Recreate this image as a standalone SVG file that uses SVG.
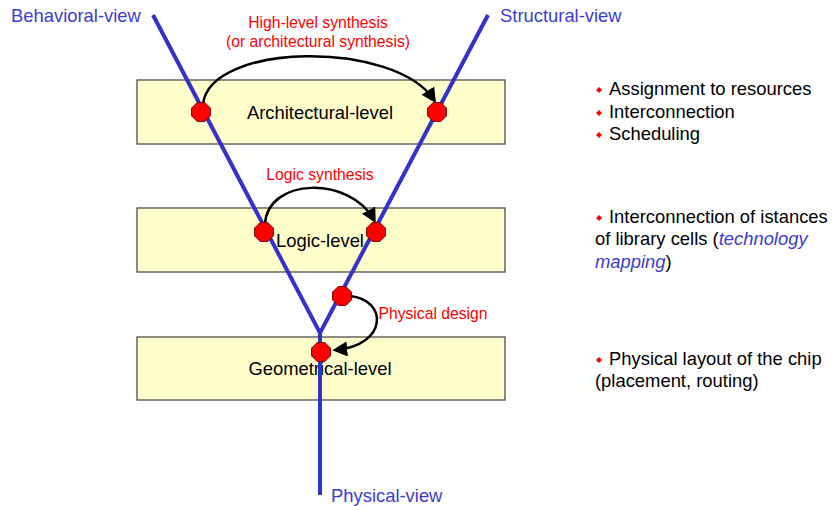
<svg xmlns="http://www.w3.org/2000/svg" width="834" height="506" viewBox="0 0 834 506">
<style>
.box{fill:#ffffcc;stroke:#404040;stroke-width:1.2}
.lvl{font-family:"Liberation Sans",Arial,sans-serif;font-size:18.4px;fill:#000;text-anchor:middle}
.view{font-family:"Liberation Sans",Arial,sans-serif;font-size:18.4px;fill:#3c3cd2}
.red{font-family:"Liberation Sans",Arial,sans-serif;font-size:15.7px;fill:#ff0000;text-anchor:middle}
.note{font-family:"Liberation Sans",Arial,sans-serif;font-size:18.4px;fill:#000}
.em{fill:#3c3cd2;font-style:italic}
.axis{stroke:#3333cc;stroke-width:4;fill:none}
.arc{stroke:#000;stroke-width:2.5;fill:none;marker-end:url(#ah)}
.oct{fill:#ff0000;stroke:#700000;stroke-width:1}
.bul{fill:#ff0000}
</style>
<defs>
<marker id="ah" markerWidth="6" markerHeight="6" refX="4.5" refY="3" orient="auto" markerUnits="strokeWidth">
<path d="M0,0 L6,3 L0,6 Z" fill="#000"/>
</marker>
<polygon id="o" points="-3.9,-9.4 3.9,-9.4 9.4,-3.9 9.4,3.9 3.9,9.4 -3.9,9.4 -9.4,3.9 -9.4,-3.9"/>
<polygon id="d" points="0,-3 3,0 0,3 -3,0"/>
</defs>

<g id="architectural-level">
<rect class="box" x="137" y="80" width="368" height="64"/>
<text class="lvl" x="320" y="118.5">Architectural-level</text>
</g>
<g id="logic-level">
<rect class="box" x="137" y="208" width="368" height="64"/>
<text class="lvl" x="320" y="247">Logic-level</text>
</g>
<g id="geometrical-level">
<rect class="box" x="137" y="337" width="368" height="63"/>
<text class="lvl" x="320" y="375">Geometrical-level</text>
</g>

<g id="behavioral-view"><text class="view" x="11" y="22">Behavioral-view</text></g>
<g id="structural-view"><text class="view" x="500" y="22">Structural-view</text></g>
<g id="physical-view"><text class="view" x="331" y="502">Physical-view</text></g>

<g id="connectors">
<path class="axis" d="M153,15 L320,333 L488,15"/>
<path class="axis" d="M320,333 L320,495"/>
<path class="arc" d="M203,104 C210,42 395,40 434,100"/>
<path class="arc" d="M265,224 C268,177 350,176 374,220"/>
<path class="arc" d="M350,296 C388,300 388,345 336,350"/>
</g>

<g id="label-high-level-synthesis">
<text class="red" x="318" y="28">High-level synthesis</text>
<text class="red" x="318" y="47">(or architectural synthesis)</text>
</g>
<g id="label-logic-synthesis"><text class="red" x="320" y="180">Logic synthesis</text></g>
<g id="label-physical-design"><text class="red" x="433" y="319">Physical design</text></g>

<g id="points">
<use href="#o" class="oct" x="201" y="112"/>
<use href="#o" class="oct" x="437" y="112"/>
<use href="#o" class="oct" x="264" y="232"/>
<use href="#o" class="oct" x="376" y="232"/>
<use href="#o" class="oct" x="342" y="296"/>
<use href="#o" class="oct" x="321" y="352"/>
</g>

<g id="notes-architectural">
<use href="#d" class="bul" x="599" y="90"/>
<use href="#d" class="bul" x="599" y="113"/>
<use href="#d" class="bul" x="599" y="135"/>
<text class="note" x="609" y="95">Assignment to resources</text>
<text class="note" x="609" y="117.5">Interconnection</text>
<text class="note" x="609" y="140">Scheduling</text>
</g>
<g id="notes-logic">
<use href="#d" class="bul" x="599" y="218"/>
<text class="note" x="609" y="222.5">Interconnection of istances</text>
<text class="note" x="595" y="245">of library cells (<tspan class="em">technology</tspan></text>
<text class="note" x="595" y="267.5"><tspan class="em">mapping</tspan>)</text>
</g>
<g id="notes-geometrical">
<use href="#d" class="bul" x="599" y="360"/>
<text class="note" x="609" y="365">Physical layout of the chip</text>
<text class="note" x="595" y="387">(placement, routing)</text>
</g>
</svg>
